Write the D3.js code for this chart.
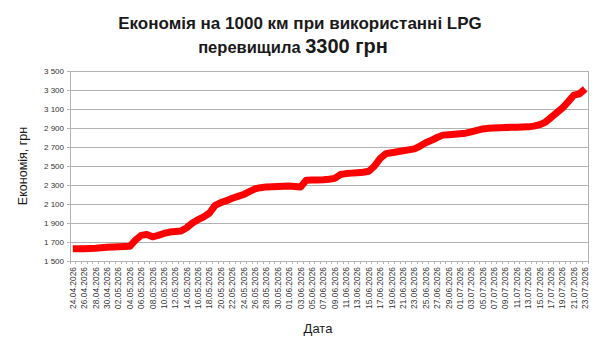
<!DOCTYPE html>
<html><head><meta charset="utf-8">
<script src="https://cdn.jsdelivr.net/npm/d3@7"></script>
<style>body{margin:0;background:#fff;} svg{display:block;font-family:"Liberation Sans",Arial,sans-serif;}</style>
</head><body>
<svg id="c" width="600" height="350"></svg>
<script>
const startDate = "24.04.2026";
const dayCount = 91;
const values = [1630,1630,1630,1632,1635,1640,1645,1648,1650,1652,
1655,1720,1770,1780,1755,1770,1790,1805,1810,1815,
1850,1900,1935,1965,2005,2085,2115,2135,2160,2180,
2200,2230,2260,2272,2280,2282,2285,2288,2290,2285,
2278,2350,2352,2352,2355,2360,2370,2410,2420,2425,
2430,2435,2445,2500,2580,2630,2640,2650,2660,2670,
2680,2710,2745,2770,2800,2825,2830,2835,2840,2845,
2860,2875,2890,2897,2900,2902,2905,2907,2908,2910,
2912,2920,2935,2960,3010,3060,3110,3175,3245,3260,3310];
const yTicks = [1500,1700,1900,2100,2300,2500,2700,2900,3100,3300,3500];
const titleLine1 = "Економія на 1000 км при використанні LPG";
const titleLine2a = "перевищила ";
const titleLine2b = "3300 грн";
const yTitle = "Економія, грн";
const xTitle = "Дата";

const parse = d3.timeParse("%d.%m.%Y"), fmt = d3.timeFormat("%d.%m.%Y");
const d0 = parse(startDate);
const dates = d3.range(dayCount).map(i => fmt(d3.timeDay.offset(d0, i)));
const data = dates.map((d,i)=>({d, v: values[i]}));

const svg = d3.select("#c");
const L = 70, R = 588, T = 71, B = 261;
const x = d3.scaleBand().domain(dates).range([L, R]).padding(0);
const y = d3.scaleLinear().domain([1500,3500]).range([B, T]);

svg.append("g").selectAll("line").data(yTicks).join("line")
  .attr("x1", L).attr("x2", R).attr("y1", d=>y(d)).attr("y2", d=>y(d))
  .attr("stroke", "#b3b3b3").attr("stroke-width", 1).attr("shape-rendering","crispEdges");
svg.append("line").attr("x1",R).attr("x2",R).attr("y1",T).attr("y2",B)
  .attr("stroke","#b3b3b3").attr("shape-rendering","crispEdges");

const yAxis = svg.append("g").attr("transform", `translate(${L},0)`)
  .call(d3.axisLeft(y).tickValues(yTicks).tickSize(3).tickPadding(3).tickFormat(d => d3.format(",")(d).replace(/,/g," ")));
yAxis.select(".domain").attr("stroke","#b3b3b3");
yAxis.selectAll(".tick line").attr("stroke","#b3b3b3");
yAxis.selectAll("text").attr("font-size", 8).attr("fill","#333").attr("font-family","Liberation Sans, Arial, sans-serif");

const xg = svg.append("g");
xg.append("line").attr("x1",L).attr("x2",R).attr("y1",B).attr("y2",B).attr("stroke","#b3b3b3").attr("shape-rendering","crispEdges");
xg.selectAll("line.t").data(dates.concat(["__end"])).join("line").attr("class","t")
  .attr("x1",(d,i)=> i<dates.length ? x(d) : R).attr("x2",(d,i)=> i<dates.length ? x(d) : R)
  .attr("y1",B).attr("y2",B+3).attr("stroke","#b3b3b3").attr("shape-rendering","crispEdges");
xg.selectAll("text").data(dates.filter((d,i)=>i%2===0)).join("text")
  .attr("transform", d => `translate(${x(d)+x.bandwidth()/2+3},${B+6}) rotate(-90)`)
  .attr("text-anchor","end").attr("font-size", 8.4).attr("fill","#333").text(d=>d);

const line = d3.line().x(d => x(d.d)+x.bandwidth()/2).y(d => y(d.v));
svg.append("path").datum(data).attr("d", line).attr("fill","none")
  .attr("stroke","#ff0000").attr("stroke-width",7).attr("stroke-linejoin","round").attr("stroke-linecap","butt");

svg.append("text").attr("x",300).attr("y",29).attr("text-anchor","middle")
  .attr("font-size",17).attr("font-weight","bold").attr("fill","#1a1a1a").text(titleLine1);
const t2 = svg.append("text").attr("x",293).attr("y",53).attr("text-anchor","middle").attr("font-weight","bold").attr("fill","#1a1a1a");
t2.append("tspan").attr("font-size",16.5).text(titleLine2a);
t2.append("tspan").attr("font-size",20).text(titleLine2b);

svg.append("text").attr("transform","translate(27,166) rotate(-90)").attr("text-anchor","middle")
  .attr("font-size",12.5).attr("fill","#1a1a1a").text(yTitle);
svg.append("text").attr("x",318).attr("y",333).attr("text-anchor","middle")
  .attr("font-size",13).attr("fill","#1a1a1a").text(xTitle);
</script>
</body></html>
